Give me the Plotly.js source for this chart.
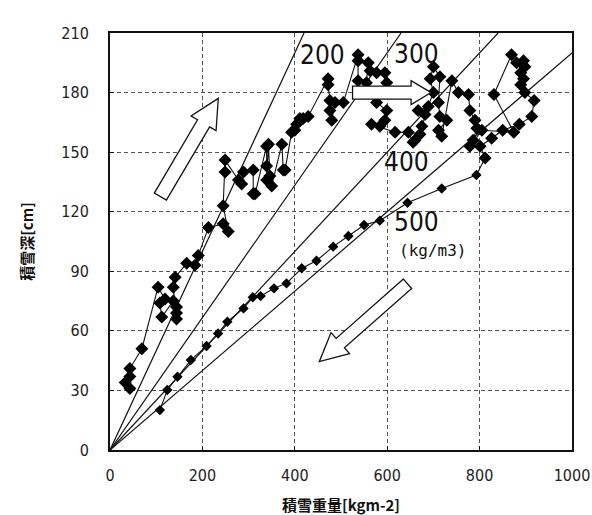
<!DOCTYPE html>
<html>
<head>
<meta charset="utf-8">
<script src="https://cdn.plot.ly/plotly-3.0.1.min.js"></script>
<style>html,body{margin:0;padding:0;background:#fff;}#chart{width:592px;height:515px;}</style>
</head>
<body>
<div id="chart"></div>
<script>
// Accumulation phase (snow weight kg/m2, snow depth cm)
var accumX = [33,43,43,43,69,104,119,108,112,137,
  144,144,144,137,141,166,184,191,213,245,
  256,245,249,249,278,285,289,310,310,314,
  339,339,339,343,346,350,372,375,379,393,
  400,404,411,418,429,472,472,476,476,480,
  487,505,537,537,537,555,559,563,577,595,
  599,577,599,595,584,566,617,646,656,671,
  660,675,689,667,682,700,693,700,714,711,
  714,729,711,718,740,754,776,779,790,794,
  786,779,805,874,831,869,880,895,898,889,
  895,889,898,918,913,886,850,826,801,812];
var accumY = [34,31,37,41,51,82,76,74,67,75,
  72,69,66,82,87,94,93,98,112,114,
  110,123,140,146,136,134,140,141,129,129,
  153,143,136,154,138,133,154,141,141,160,
  161,164,167,167,168,187,184,176,171,166,
  175,175,199,196,186,185,195,191,190,190,
  185,175,171,166,163,164,160,160,155,159,
  156,163,173,171,169,180,187,193,188,175,
  168,166,161,158,186,180,179,171,166,162,
  156,153,161,160,179,199,195,196,193,190,
  187,184,180,176,168,164,161,157,153,147];
// Melting phase
var meltX = [812,793,718,644,584,550,516,483,447,415,382,355,326,309,289,254,234,209,175,146,124,108];
var meltY = [147,138.5,131.7,124.5,115.5,113.3,107.8,102.4,95.3,91.5,83.9,81.4,77.5,76.9,71.3,64.6,58.7,52.4,45.3,36.9,30.2,20.1];
// Density reference lines (kg/m3)
var densities = [200,300,400,500];
var densityLabels = ["200","300","400","500"];
var xTicks = [0,200,400,600,800,1000];
var yTicks = [0,30,60,90,120,150,180,210];
var xTitle = "積雪重量[kgm-2]";
var yTitle = "積雪深[cm]";
var unitLabel = "(kg/m3)";

var xMax = 1000, yMax = 210;
var W = 592, H = 515, mL = 110, mR = 20, mT = 33, mB = 65;
var plotW = W - mL - mR, plotH = H - mT - mB;
var sx = plotW / xMax, sy = plotH / yMax;

var traces = [];
densities.forEach(function(d){
  var xe = Math.min(xMax, yMax * d / 100);
  traces.push({x:[0, xe], y:[0, xe*100/d], mode:'lines', line:{color:'#111', width:1.2}, hoverinfo:'skip', showlegend:false});
});
traces.push({x:accumX, y:accumY, mode:'lines+markers', line:{color:'#111', width:1.1},
  marker:{symbol:'diamond', size:10, color:'#000'}, showlegend:false});
traces.push({x:meltX, y:meltY, mode:'lines+markers', line:{color:'#111', width:1.1},
  marker:{symbol:'diamond', size:8, color:'#000'}, showlegend:false});

function arrowPath(tail, tip, sw, hw, hl){
  var tx = tail[0]*sx, ty = -tail[1]*sy, px = tip[0]*sx, py = -tip[1]*sy;
  var dx = px-tx, dy = py-ty, L = Math.sqrt(dx*dx+dy*dy);
  var ux = dx/L, uy = dy/L, nx = -uy, ny = ux;
  var bx = px-ux*hl, by = py-uy*hl;
  var pts = [
    [tx+nx*sw/2, ty+ny*sw/2], [bx+nx*sw/2, by+ny*sw/2], [bx+nx*hw/2, by+ny*hw/2],
    [px, py], [bx-nx*hw/2, by-ny*hw/2], [bx-nx*sw/2, by-ny*sw/2], [tx-nx*sw/2, ty-ny*sw/2]];
  return 'M ' + pts.map(function(p){return (p[0]/sx).toFixed(2)+','+(-p[1]/sy).toFixed(2);}).join(' L ') + ' Z';
}
var arrows = [
  {tail:[109,127.6], tip:[234.4,177.1], sw:14, hw:29, hl:29},
  {tail:[525,180], tip:[695,180], sw:13, hw:24, hl:20},
  {tail:[644,83.7], tip:[453,44.5], sw:12.5, hw:28, hl:28}
];
var shapes = arrows.map(function(a){
  return {type:'path', xref:'x', yref:'y', path:arrowPath(a.tail,a.tip,a.sw,a.hw,a.hl),
    fillcolor:'#fff', line:{color:'#111', width:1.3}, layer:'above'};
});

var labelPos = [[461,198.9],[664,199.4],[642,145.2],[664,115]];
var annotations = densityLabels.map(function(t,i){
  return {x:labelPos[i][0], y:labelPos[i][1], xref:'x', yref:'y', text:t, showarrow:false,
    font:{family:'Liberation Sans Narrow, DejaVu Sans Condensed, Arial Narrow, sans-serif', size:26, color:'#111'}};
});
annotations.push({x:697, y:100.3, xref:'x', yref:'y', text:unitLabel, showarrow:false,
  font:{family:'DejaVu Sans Mono, Liberation Mono, monospace', size:16, color:'#111'}});

var tickFont = {family:'Liberation Sans Narrow, DejaVu Sans Condensed, Arial Narrow, sans-serif', size:16, color:'#222'};
var layout = {
  width:W, height:H, margin:{l:mL, r:mR, t:mT, b:mB},
  paper_bgcolor:'#fff', plot_bgcolor:'#fff', showlegend:false,
  xaxis:{range:[0,xMax], tickvals:xTicks, ticktext:xTicks.map(String), showgrid:true, gridcolor:'#555', griddash:'4px,3px', gridwidth:1,
    zeroline:false, showline:true, mirror:true, linecolor:'#111', linewidth:2, ticks:'inside', ticklen:4, tickcolor:'#111',
    tickfont:tickFont, ticklabelstandoff:10,
    title:{text:xTitle, standoff:20, font:{family:'Noto Sans CJK JP, sans-serif', size:15, color:'#111', weight:'bold'}}},
  yaxis:{range:[0,yMax], tickvals:yTicks, ticktext:yTicks.map(String), showgrid:true, gridcolor:'#555', griddash:'4px,3px', gridwidth:1,
    zeroline:false, showline:true, mirror:true, linecolor:'#111', linewidth:2, ticks:'inside', ticklen:4, tickcolor:'#111',
    tickfont:tickFont, ticklabelstandoff:16,
    title:{text:yTitle, standoff:24, font:{family:'Noto Sans CJK JP, sans-serif', size:15, color:'#111', weight:'bold'}}},
  shapes:shapes, annotations:annotations
};
Plotly.newPlot('chart', traces, layout, {staticPlot:true, displayModeBar:false});
</script>
</body>
</html>
